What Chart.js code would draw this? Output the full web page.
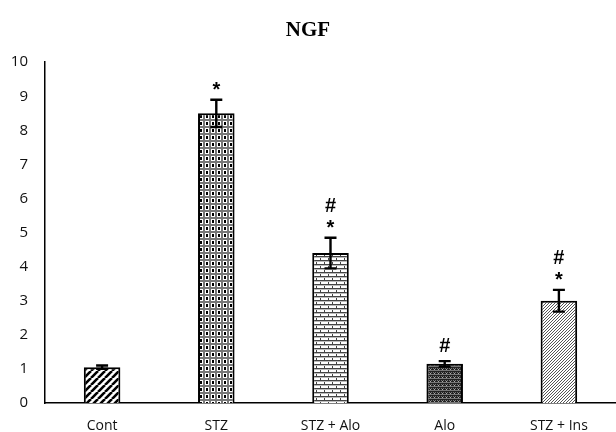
<!DOCTYPE html>
<html><head><meta charset="utf-8">
<script src="https://cdn.jsdelivr.net/npm/chart.js@4"></script>
<style>html,body{margin:0;padding:0;background:#fff}#wrap{width:616px;height:432px}</style>
</head><body><div id="wrap"><canvas id="c" width="616" height="432"></canvas></div>
<script>
const categories = ["Cont", "STZ", "STZ + Alo", "Alo", "STZ + Ins"];
const values = [1.05, 8.5, 4.4, 1.15, 3.0];
const errors = [0.05, 0.40, 0.45, 0.08, 0.32];
const marks = [[], ["*"], ["*", "#"], ["#"], ["*", "#"]];
const yTicks = [0,1,2,3,4,5,6,7,8,9,10];

function mkPat(w, h, draw) {
  const c = document.createElement('canvas');
  c.width = w; c.height = h;
  const g = c.getContext('2d');
  g.fillStyle = '#fff'; g.fillRect(0,0,w,h);
  draw(g, w, h);
  return g.createPattern(c, 'repeat');
}
const patterns = [
  mkPat(7, 7, (g,s)=>{ g.strokeStyle='#000'; g.lineWidth=2.6; g.beginPath();
    for (let k=-1;k<=1;k++){ g.moveTo(k*s, s); g.lineTo(k*s+s, 0);} g.stroke(); }),
  mkPat(6, 7, (g)=>{ g.fillStyle='#777'; g.fillRect(0,0,6,2); g.fillRect(0,0,1,7); g.fillRect(5,0,1,7);
    g.fillStyle='#000'; g.fillRect(2,3,2,3); }),
  mkPat(8, 8, (g)=>{ g.fillStyle='#444'; g.fillRect(0,0,8,1); g.fillRect(0,4,8,1); g.fillRect(0,0,1,4); g.fillRect(4,4,1,4);
    g.fillStyle='#bbb'; g.fillRect(0,1,8,1); g.fillRect(0,5,8,1); }),
  mkPat(4, 4, (g)=>{ g.fillStyle='#222'; g.fillRect(0,0,4,4); g.fillStyle='#777'; g.fillRect(1,0,1,1); g.fillRect(3,0,1,1); g.fillRect(0,2,4,1); g.fillStyle='#aaa'; g.fillRect(2,1,1,1); }),
  mkPat(3, 3, (g,s)=>{ g.strokeStyle='#555'; g.lineWidth=1; g.beginPath();
    for (let k=-1;k<=1;k++){ g.moveTo(k*s, s); g.lineTo(k*s+s, 0);} g.stroke(); })
];

const errPlugin = {
  id: 'err',
  afterDatasetsDraw(chart) {
    const ctx = chart.ctx, y = chart.scales.y, meta = chart.getDatasetMeta(0);
    ctx.save();
    meta.data.forEach((bar, i) => {
      const x = bar.x;
      const yt = y.getPixelForValue(values[i] + errors[i]);
      const yb = y.getPixelForValue(values[i] - errors[i]);
      ctx.strokeStyle = '#000'; ctx.lineWidth = 2.4;
      ctx.beginPath();
      ctx.moveTo(x, yt); ctx.lineTo(x, yb);
      ctx.moveTo(x-6, yt); ctx.lineTo(x+6, yt);
      ctx.moveTo(x-6, yb); ctx.lineTo(x+6, yb);
      ctx.stroke();
      ctx.fillStyle = '#000';
      ctx.textAlign = 'center';
      ctx.textBaseline = 'middle';
      ctx.font = 'bold 20px "Liberation Sans"';
      marks[i].forEach((m, j) => {
        if (m === '*') ctx.fillText(m, x, yt - 9);
        else ctx.fillText(m, x, yt - (j === 0 ? 15 : 31));
      });
    });
    ctx.restore();
  }
};

new Chart(document.getElementById('c'), {
  type: 'bar',
  data: {
    labels: categories,
    datasets: [{
      data: values,
      backgroundColor: patterns,
      borderColor: '#000',
      borderWidth: 2,
      categoryPercentage: 1,
      barPercentage: 0.32
    }]
  },
  options: {
    responsive: false,
    animation: false,
    devicePixelRatio: 1,
    layout: { padding: { left: 0, right: 0, top: 0, bottom: 0 } },
    plugins: {
      legend: { display: false },
      tooltip: { enabled: false },
      title: {
        display: true, text: 'NGF', color: '#000',
        font: { family: '"Liberation Serif"', size: 21, weight: 'bold' },
        padding: { top: 18, bottom: 19 }
      }
    },
    scales: {
      x: {
        afterFit: (s) => { s.height = 29; },
        grid: { display: false, drawTicks: false },
        border: { display: true, color: '#000', width: 1.5 },
        ticks: { color: '#111', font: { family: '"Open Sans"', size: 14 }, padding: 15, maxRotation: 0 }
      },
      y: {
        min: 0, max: 10,
        afterBuildTicks: (s) => { s.ticks = yTicks.map(v => ({ value: v })); },
        afterFit: (s) => { s.width = 45; },
        grid: { display: false, drawTicks: false },
        border: { display: true, color: '#000', width: 1.5 },
        ticks: { color: '#111', font: { family: '"Open Sans"', size: 15 }, padding: 17 }
      }
    }
  },
  plugins: [errPlugin]
});
</script>
</body></html>
